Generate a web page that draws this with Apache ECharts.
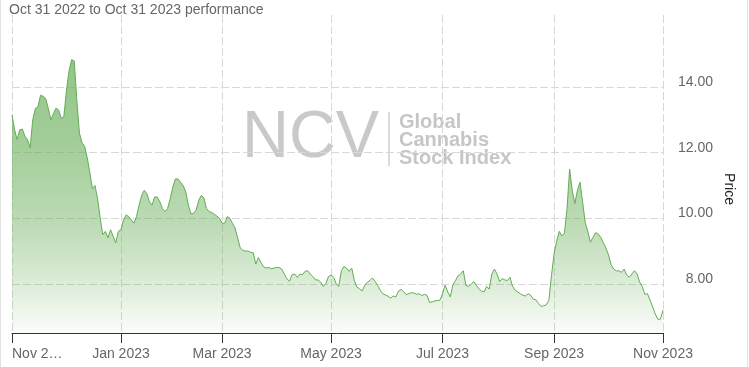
<!DOCTYPE html>
<html>
<head>
<meta charset="utf-8">
<script src="https://cdn.jsdelivr.net/npm/echarts@6/dist/echarts.min.js"></script>
<style>
html,body{margin:0;padding:0;background:#fff;}
#chart{width:749px;height:367px;}
</style>
</head>
<body>
<div id="chart"></div>
<script>
// ---- text ----
const subtitle = 'Oct 31 2022 to Oct 31 2023 performance';
const yAxisTitle = 'Price';
const watermarkMain = 'NCV';
const watermarkSide = 'Global\nCannabis\nStock Index';

// ---- axis ticks ----
const yTicks = [8, 10, 12, 14];
const firstTickLabel = 'Nov 2\u2026';
const lastTickLabel = 'Nov 2023';
const tickMonths = [0, 2, 4, 6, 8];            // Jan, Mar, May, Jul, Sep
const monthNames = ['Jan','Feb','Mar','Apr','May','Jun','Jul','Aug','Sep','Oct','Nov','Dec'];

// ---- trading calendar (weekdays, market holidays excluded) ----
const startDate = '2022-10-31';
const endDate = '2023-10-31';
const holidays = ['2022-11-24','2022-12-26','2023-01-02','2023-01-16','2023-02-20',
                  '2023-04-07','2023-05-29','2023-06-19','2023-07-04','2023-09-04'];

// ---- daily closing values ----
const oct2022 = [13.15];
const nov2022 = [12.7, 12.4, 12.7, 12.72, 12.5, 12.4, 12.15, 13.0, 13.35, 13.4, 13.75, 13.72, 13.65, 13.35, 13.0, 13.2, 13.36, 13.3, 13.05, 13.1, 13.9];
const dec2022 = [14.5, 14.84, 14.8, 13.6, 12.6, 12.3, 12.2, 11.85, 11.4, 10.9, 11.0, 10.6, 10.0, 9.5, 9.6, 9.4, 9.65, 9.45, 9.25, 9.6, 9.65];
const jan2023 = [9.95, 10.1, 10.05, 9.95, 9.85, 10.05, 10.4, 10.7, 10.85, 10.75, 10.5, 10.4, 10.65, 10.65, 10.5, 10.3, 10.2, 10.3, 10.6, 10.95];
const feb2023 = [11.2, 11.2, 11.1, 11.0, 10.8, 10.4, 10.13, 10.15, 10.25, 10.55, 10.7, 10.62, 10.3, 10.2, 10.18, 10.12, 10.07, 10.0, 9.85];
const mar2023 = [9.85, 10.05, 10.0, 9.85, 9.7, 9.4, 9.1, 9.02, 9.0, 9.0, 8.96, 8.95, 8.6, 8.8, 8.65, 8.52, 8.48, 8.5, 8.46, 8.48, 8.5, 8.5, 8.45];
const apr2023 = [8.3, 8.15, 8.08, 8.28, 8.3, 8.2, 8.3, 8.28, 8.38, 8.4, 8.3, 8.22, 8.12, 8.12, 8.05, 7.92, 8.0, 8.22, 8.27];
const may2023 = [8.2, 8.0, 7.92, 8.4, 8.53, 8.48, 8.38, 8.48, 8.1, 7.9, 7.85, 7.78, 7.95, 8.05, 8.1, 8.18, 8.07, 7.95, 7.8, 7.7, 7.66, 7.62];
const jun2023 = [7.56, 7.63, 7.6, 7.78, 7.83, 7.76, 7.67, 7.7, 7.73, 7.72, 7.68, 7.7, 7.64, 7.68, 7.65, 7.43, 7.45, 7.48, 7.49, 7.5, 7.7];
const jul2023 = [7.96, 7.75, 7.6, 7.97, 8.1, 8.25, 8.3, 8.4, 7.95, 7.92, 7.98, 8.07, 7.96, 7.85, 7.78, 7.75, 7.92, 7.84, 8.3, 8.45];
const aug2023 = [8.3, 8.07, 8.16, 8.12, 8.1, 8.2, 7.92, 7.8, 7.75, 7.7, 7.65, 7.63, 7.7, 7.65, 7.53, 7.51, 7.4, 7.31, 7.33, 7.36, 7.5, 8.25, 8.92];
const sep2023 = [9.3, 9.6, 9.46, 9.55, 10.3, 11.5, 10.85, 10.45, 10.85, 11.1, 10.5, 9.87, 9.6, 9.27, 9.42, 9.56, 9.52, 9.42, 9.25, 9.09];
const oct2023 = [8.88, 8.58, 8.45, 8.39, 8.4, 8.35, 8.45, 8.27, 8.2, 8.3, 8.4, 8.3, 8.05, 7.92, 7.68, 7.7, 7.5, 7.3, 7.08, 6.92, 6.92, 7.2];

const prices = [].concat(oct2022, nov2022, dec2022, jan2023, feb2023, mar2023, apr2023,
                         may2023, jun2023, jul2023, aug2023, sep2023, oct2023);

// build the category list of trading days
const dates = [];
{
  const end = new Date(endDate + 'T00:00:00Z');
  for (let d = new Date(startDate + 'T00:00:00Z'); d <= end; d.setUTCDate(d.getUTCDate() + 1)) {
    const wd = d.getUTCDay();
    const s = d.toISOString().slice(0, 10);
    if (wd === 0 || wd === 6 || holidays.indexOf(s) >= 0) continue;
    dates.push(s);
  }
}
const lastIdx = dates.length - 1;
function monthOf(s) { return +s.slice(5, 7) - 1; }
function yearOf(s) { return s.slice(0, 4); }
// a month tick sits at the month boundary, i.e. on the last session before the new month opens
function isTick(i) {
  if (i === 0 || i === lastIdx) return true;
  const next = dates[i + 1];
  return monthOf(next) !== monthOf(dates[i]) && tickMonths.indexOf(monthOf(next)) >= 0;
}
function tickLabel(i) {
  if (i === 0) return firstTickLabel;
  if (i === lastIdx) return lastTickLabel;
  const next = dates[i + 1];
  return monthNames[monthOf(next)] + ' ' + yearOf(next);
}

const FONT = '"Liberation Sans", Arial, sans-serif';
const green = 'rgb(100,172,84)';

const chart = echarts.init(document.getElementById('chart'), null, {renderer: 'canvas'});
chart.setOption({
  animation: false,
  backgroundColor: '#ffffff',
  title: {
    text: subtitle,
    left: 9, top: 3, padding: 0,
    textStyle: {fontFamily: FONT, fontSize: 14, fontWeight: 'normal', color: '#666666'}
  },
  grid: {left: 12, right: 86, top: 15, bottom: 34, containLabel: false, outerBoundsMode: 'none'},
  xAxis: {
    type: 'category',
    data: dates,
    boundaryGap: false,
    axisLine: {show: true, lineStyle: {color: '#333333', width: 1}},
    axisTick: {show: true, length: 10, interval: (i) => isTick(i), lineStyle: {color: '#333333'}},
    axisLabel: {
      interval: (i) => isTick(i),
      margin: 14,
      fontFamily: FONT, fontSize: 14, color: '#666666',
      alignMinLabel: 'left',
      formatter: (v, i) => tickLabel(i)
    },
    splitLine: {show: true, interval: (i) => isTick(i), lineStyle: {color: '#d8d8d8', type: [8, 3], width: 1}}
  },
  yAxis: {
    type: 'value',
    position: 'right',
    min: 6.5,
    max: 16.2,
    axisLine: {show: false},
    axisTick: {show: false, customValues: yTicks},
    axisLabel: {
      customValues: yTicks,
      margin: 50, align: 'right', verticalAlign: 'bottom', lineHeight: 10,
      fontFamily: FONT, fontSize: 14, color: '#666666',
      formatter: (v) => v.toFixed(2)
    },
    splitLine: {show: true, lineStyle: {color: '#d8d8d8', type: [8, 3], width: 1}}
  },
  graphic: [
    {type: 'text', x: 242, y: 139, scaleX: 0.97, z: -10, silent: true,
     style: {text: watermarkMain, font: '67px ' + FONT, fill: '#c9c9c9', textVerticalAlign: 'middle'}},
    {type: 'line', z: -10, silent: true, shape: {x1: 389, y1: 112, x2: 389, y2: 166},
     style: {stroke: '#cfcfcf', lineWidth: 1.5}},
    {type: 'text', x: 399, y: 140, z: -10, silent: true,
     style: {text: watermarkSide, font: 'bold 20px ' + FONT, fill: '#c6c6c6', lineHeight: 18, textVerticalAlign: 'middle'}},
    {type: 'text', x: 729, y: 189, rotation: -Math.PI / 2, silent: true,
     style: {text: yAxisTitle, font: '14px ' + FONT, fill: '#222222', textAlign: 'center', textVerticalAlign: 'middle'}},
    {type: 'line', silent: true, shape: {x1: 0.5, y1: 0, x2: 0.5, y2: 367}, style: {stroke: '#e3e3e3', lineWidth: 1}},
    {type: 'line', silent: true, shape: {x1: 747.5, y1: 0, x2: 747.5, y2: 367}, style: {stroke: '#e3e3e3', lineWidth: 1}}
  ],
  series: [{
    type: 'line',
    data: prices,
    symbol: 'none',
    smooth: false,
    lineStyle: {color: green, width: 1},
    itemStyle: {color: green},
    areaStyle: {
      color: new echarts.graphic.LinearGradient(0, 0, 0, 1, [
        {offset: 0, color: 'rgba(100,172,84,1)'},
        {offset: 0.33, color: 'rgba(100,172,84,0.84)'},
        {offset: 0.62, color: 'rgba(100,172,84,0.6)'},
        {offset: 0.85, color: 'rgba(100,172,84,0.28)'},
        {offset: 1, color: 'rgba(100,172,84,0.04)'}
      ])
    }
  }]
});
</script>
</body>
</html>
